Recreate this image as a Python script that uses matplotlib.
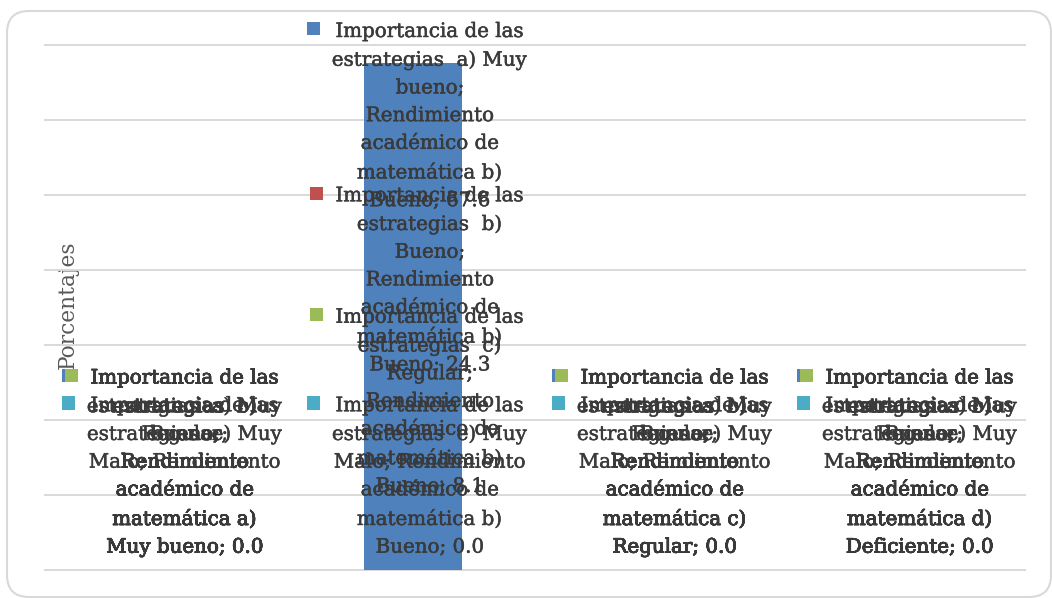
import matplotlib
matplotlib.use("Agg")
import matplotlib.pyplot as plt
import matplotlib.patheffects as pe
import numpy as np
from matplotlib.font_manager import FontProperties
from matplotlib.offsetbox import AnnotationBbox, DrawingArea, HPacker, TextArea
from matplotlib.patches import FancyBboxPatch, Rectangle
from matplotlib.transforms import IdentityTransform

# espacio duro en "Muy bueno" para que no se corte el nombre de la categoría
categorias = ["Rendimiento académico de matemática a) Muy\u00a0bueno",
              "Rendimiento académico de matemática b) Bueno",
              "Rendimiento académico de matemática c) Regular",
              "Rendimiento académico de matemática d) Deficiente"]
series = ["Importancia de las estrategias  a) Muy bueno",
          "Importancia de las estrategias  b) Bueno",
          "Importancia de las estrategias  c) Regular",
          "Importancia de las estrategias  e) Muy Malo"]
muy_bueno = [0.0, 67.6, 0.0, 0.0]
bueno = [0.0, 24.3, 0.0, 0.0]
regular = [0.0, 8.1, 0.0, 0.0]
muy_malo = [0.0, 0.0, 0.0, 0.0]
valores = [muy_bueno, bueno, regular, muy_malo]
colores = ["#4F81BD", "#C0504D", "#9BBB59", "#4BACC6"]

FUENTE = "DejaVu Serif"
TAM = 14.3
GRIS = "#3A3A3A"
RENGLON = 27.7  # separación entre renglones, en px

fig = plt.figure(figsize=(10.52, 5.98), dpi=100)
renderer = fig.canvas.get_renderer()
fp = FontProperties(family=FUENTE, size=TAM)


def ancho(s):
    w, h, d = renderer.get_text_width_height_descent(s, fp, ismath=False)
    return w


def partir(texto, max_px=199):
    lineas, actual = [], ""
    for palabra in texto.split(" "):
        prueba = palabra if not actual else actual + " " + palabra
        if actual and ancho(prueba) > max_px:
            lineas.append(actual)
            actual = palabra
        else:
            actual = prueba
    lineas.append(actual)
    return "\n".join(lineas)


# matplotlib avanza (h - d) * interlineado + d por renglón
_, lp_h, lp_d = renderer.get_text_width_height_descent("lp", fp, ismath=False)
interlinea = (RENGLON - lp_d) / (lp_h - lp_d)
alto_clave = (lp_h - lp_d) * 72 / fig.dpi

# marco redondeado del gráfico
fig.add_artist(FancyBboxPatch((7, 1), 1044, 586, boxstyle="round,pad=0,rounding_size=22",
                              transform=IdentityTransform(), facecolor="white",
                              edgecolor="#D9D9D9", lw=1.5, zorder=-2))

ax = fig.add_axes([45 / 1052, 28 / 598, 980 / 1052, 525 / 598])
ax.patch.set_visible(False)
x = np.arange(len(categorias))

# columnas superpuestas: la serie a) queda por encima
for i, (vals, col) in enumerate(zip(valores, colores)):
    ax.bar(x, vals, width=0.4, color=col, zorder=4 - i)

ax.set_xlim(-0.5, len(categorias) - 0.5)
ax.set_ylim(0, 70)
ax.set_yticks(np.arange(0, 71, 10))
ax.yaxis.grid(True, color="#D9D9D9", lw=1.4)
ax.set_axisbelow(True)
for gl in ax.get_ygridlines():
    gl.set_clip_on(False)
ax.tick_params(length=0, labelleft=False, labelbottom=False)
for s in ax.spines.values():
    s.set_visible(False)

fig.text(68 / 1052, 1 - 305 / 598, "Porcentajes", rotation=90, ha="center", va="center",
         family=FUENTE, fontsize=15.6, color="#595959", zorder=-1)

# trazo fino para engrosar un poco la letra
grueso = [pe.withStroke(linewidth=0.35, foreground=GRIS)]

# rótulos de datos con la clave de color (serie; categoría; valor)
etiquetas = []
for i, (serie, vals, col) in enumerate(zip(series, valores, colores)):
    for j, cat in enumerate(categorias):
        texto = partir(f"{serie}; {cat}; {vals[j]:.1f}")
        clave = DrawingArea(9.4, alto_clave, 0, 0)
        clave.add_artist(Rectangle((0, alto_clave - 9.6), 9.4, 9.4,
                                   facecolor=col, edgecolor="none"))
        ta = TextArea(texto, textprops=dict(family=FUENTE, size=TAM, color=GRIS, ha="center",
                                            multialignment="center", linespacing=interlinea,
                                            path_effects=grueso))
        caja = HPacker(children=[clave, ta], align="top", pad=0, sep=8.6)
        ab = AnnotationBbox(caja, (x[j], vals[j]), xybox=(3.6, 9.6), xycoords="data",
                            boxcoords="offset points", box_alignment=(0.5, 0),
                            frameon=False, pad=0, annotation_clip=False, zorder=6 + i)
        ax.add_artist(ab)
        etiquetas.append(ab)

# los rótulos que se salen por arriba se bajan hasta el borde
fig.canvas.draw()
tope = fig.bbox.height - 22
for ab in etiquetas:
    bb = ab.get_window_extent()
    if bb.y1 > tope:
        dx, dy = ab.xybox
        ab.xybox = (dx, dy - (bb.y1 - tope) * 72 / fig.dpi)

fig.savefig("out.png", dpi=100)
